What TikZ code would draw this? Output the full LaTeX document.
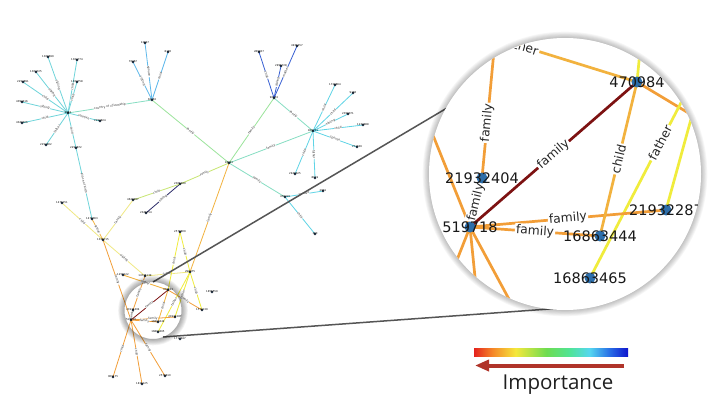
\documentclass[tikz,border=0pt]{standalone}
\usepackage{fontspec}
\setmainfont{DejaVu Sans}
\newfontfamily\impfont{Open Sans}
\usetikzlibrary{arrows.meta}

\definecolor{maroonE}{RGB}{125,18,18}
\definecolor{orangeE}{RGB}{242,158,56}
\definecolor{sorangeE}{RGB}{242,178,62}
\definecolor{yellowE}{RGB}{240,236,60}
\definecolor{lyellowE}{RGB}{240,232,130}
\definecolor{dotblue}{RGB}{45,110,170}
\definecolor{tealE}{RGB}{110,212,218}
\definecolor{cyanE}{RGB}{95,212,230}
\definecolor{skyE}{RGB}{95,185,235}
\definecolor{lgreenE}{RGB}{155,228,155}
\definecolor{mintE}{RGB}{135,222,195}
\definecolor{blueE}{RGB}{55,95,210}
\definecolor{navyE}{RGB}{45,45,105}
\definecolor{ygreenE}{RGB}{200,230,115}
\definecolor{zoomline}{RGB}{85,85,85}
\definecolor{arrowred}{RGB}{176,52,42}
\definecolor{sdot}{RGB}{25,40,60}
\definecolor{cb0}{RGB}{228,35,30}
\definecolor{cb1}{RGB}{245,135,40}
\definecolor{cb2}{RGB}{245,232,60}
\definecolor{cb3}{RGB}{110,220,80}
\definecolor{cb4}{RGB}{80,228,150}
\definecolor{cb5}{RGB}{85,215,240}
\definecolor{cb6}{RGB}{40,110,230}
\definecolor{cb7}{RGB}{15,20,205}

\pgfdeclarehorizontalshading{importance}{100bp}{color(0bp)=(cb0); color(25bp)=(cb0); color(31bp)=(cb1); color(38.5bp)=(cb2); color(48.5bp)=(cb3); color(56bp)=(cb4); color(62.5bp)=(cb5); color(69bp)=(cb6); color(75bp)=(cb7); color(100bp)=(cb7)}

\tikzset{
  bedge/.style={line width=2.7pt},
  bdot/.style={circle, fill=dotblue, inner sep=0pt, minimum size=11pt},
  blab/.style={font=\fontsize{14.5}{16}\selectfont, text=black!90, inner sep=0pt},
  belab/.style={font=\fontsize{12.3}{14}\selectfont, text=black!85, fill=white, inner sep=1.2pt, sloped},
  sedge/.style={line width=0.8pt},
  sdotst/.style={circle, fill=sdot, inner sep=0pt, minimum size=2.8pt},
  slab/.style={font=\fontsize{2.6}{3}\selectfont, text=black, inner sep=0pt},
  selab/.style={font=\fontsize{3}{3.5}\selectfont, text=black!80, fill=white, inner sep=0.2pt, sloped},
}

\def\smallnodes{A/68/113/9682, a1/48/57/1309699, a2/77/60/1304774, a3/36/72/1304725, a4/23/82/2294891, a5/77/82/1304758, a6/22/102/4094416, a7/22/123/4040926, a8/100/121/2294824, a9/46/145/2294802, a10/76/148/2294872,
B/152/100/36463, b1/145/43/12847, b2/168/52/8165, b3/133/62/70467,
D/274/98/90453, d1/259/52/289837, d2/297/46/4936457, d3/281/66/2996728,
C/229/163/18091,
E/313/131/838731, e1/335/85/1728864, e2/353/93/9166, e3/348/114/2399071, e4/363/125/1234988, e5/357/147/271636, e6/295/174/2948625, e7/315/178/8619,
F/285/197/478419, f1/323/191/2961, f2/315/234/380,
G/180/184/2306489, g1/146/213/2046754, g2/133/200/4628997,
N1/92/219/1478063, N2/62/203/1476151, H/103/240/1038715, N3/180/232/2578809,
P/190/272/298475, Q1/123/275/1258122, Q2/145/276/14736139, R/212/292/1856559, S/202/310/1572139, T/180/339/1717947,
U1/113/377/909175, U2/142/384/1816125, U3/165/376/2578810,
l1/168/290/470984, l2/133/310/21932404, l3/131/320/519718, l4/158/322/16863444, l5/175/317/21932287, l6/158/332/16863465}

\def\smalledges{A/a1/tealE/sibling, A/a2/tealE/child, A/a3/tealE/sibling, A/a4/tealE/child, A/a5/tealE/child, A/a6/tealE/sibling, A/a7/tealE/child, A/a8/tealE/relative, A/a9/tealE/father, A/a10/tealE/child,
A/B/mintE/country of citizenship, a10/N1/tealE/place of birth,
B/b1/skyE/spouse, B/b2/skyE/child, B/b3/skyE/sibling, B/C/lgreenE/family,
D/d1/blueE/child, D/d2/blueE/mother, D/d3/blueE/sibling, D/C/lgreenE/family, D/E/mintE/family, C/E/mintE/family,
E/e1/cyanE/child, E/e2/cyanE/child, E/e3/cyanE/sibling, E/e4/cyanE/child, E/e5/cyanE/spouse, E/e6/cyanE/child, E/e7/cyanE/father,
C/F/mintE/family, F/f1/cyanE/spouse, F/f2/cyanE/child,
C/G/ygreenE/family, G/g1/navyE/sibling, G/g2/ygreenE/child,
C/P/sorangeE/family, N1/H/sorangeE/father, H/N2/lyellowE/child, H/g2/lyellowE/family, H/Q2/lyellowE/sibling,
P/N3/yellowE/child, P/Q2/lyellowE/family, P/S/yellowE/child,
H/l3/orangeE/family, Q2/l2/orangeE/family, Q1/l1/sorangeE/father, N3/l1/yellowE/child, l1/S/orangeE/family,
P/l6/yellowE/father, P/l5/yellowE/father,
l3/l2/orangeE/family, l3/l5/orangeE/family, l3/l4/orangeE/family, l1/l4/sorangeE/child, l3/l1/maroonE/family,
l3/U1/orangeE/child, l3/U2/orangeE/child, l3/U3/orangeE/family}

\begin{document}
\begin{tikzpicture}[x=1pt,y=-1pt]
\useasboundingbox (0,0) rectangle (720,409);
\fill[white] (0,0) rectangle (720,409);

% ---------- small overview graph ----------
\foreach \nn/\xx/\yy/\nt in \smallnodes {\coordinate (\nn) at (\xx,\yy);}
\foreach \ea/\eb/\ec/\el in \smalledges {\draw[sedge, draw=\ec] (\ea) -- node[selab]{\el} (\eb);}
\foreach \nn/\xx/\yy/\nt in \smallnodes {\node[sdotst] (\nn-d) at (\nn) {}; \node[slab] (\nn-t) at (\nn) {\nt};}

% ---------- zoom connector lines ----------
\coordinate (zlu1) at (153,282);
\coordinate (zlu2) at (447,108);
\coordinate (zll1) at (163,337);
\coordinate (zll2) at (563,308);
\draw[zoomline, line width=1.5pt] (zlu1) -- (zlu2);
\draw[zoomline, line width=1.5pt] (zll1) -- (zll2);

% ---------- lens ----------
\coordinate (lc) at (153,310.5);
\foreach \i in {1,...,7}
  \fill[black, opacity=0.05, even odd rule] (lc) circle[radius={28.5pt+\i*0.9pt}] circle[radius=28.5pt];

% ---------- magnified circle ----------
\coordinate (bc) at (565,174);
\foreach \i in {1,...,7}
  \fill[black, opacity=0.035] (bc) circle[radius={136pt+\i*0.9pt}];
\fill[white] (bc) circle[radius=136pt];
\begin{scope}
  \clip (bc) circle[radius=136pt];
  \coordinate (B470984) at (637,82);
  \coordinate (B21932404) at (482,178);
  \coordinate (B519718) at (470,227);
  \coordinate (B16863444) at (600,236);
  \coordinate (B21932287) at (666,210);
  \coordinate (B16863465) at (590,278);
  \coordinate (o1) at (495,40);
  \coordinate (o2) at (463,28);
  \coordinate (o3) at (720,132);
  \coordinate (o4) at (642,30);
  \coordinate (o5) at (725,18);
  \coordinate (o6) at (699,90);
  \coordinate (o7) at (420,103);
  \coordinate (o8) at (440,303);
  \coordinate (o9) at (481,337);
  \coordinate (o10) at (530,338);

  \draw[bedge, orangeE] (B21932404) -- node[belab, pos=0.4]{family} (o1);
  \draw[bedge, sorangeE] (B470984) -- node[belab, pos=0.67]{father} (o2);
  \draw[bedge, orangeE] (B470984) -- (o3);
  \draw[bedge, yellowE] (B470984) -- (o4);
  \draw[bedge, yellowE] (B16863465) -- node[belab, pos=0.52]{father} (o5);
  \draw[bedge, yellowE] (B21932287) -- (o6);
  \draw[bedge, orangeE] (B519718) -- (o7);
  \draw[bedge, orangeE] (B519718) -- (o8);
  \draw[bedge, orangeE] (B519718) -- (o9);
  \draw[bedge, orangeE] (B519718) -- (o10);
  \draw[bedge, orangeE] (B519718) -- node[belab]{family} (B21932404);
  \draw[bedge, orangeE] (B519718) -- node[belab]{family} (B21932287);
  \draw[bedge, orangeE] (B519718) -- node[belab]{family} (B16863444);
  \draw[bedge, sorangeE] (B470984) -- node[belab]{child} (B16863444);
  \draw[bedge, maroonE] (B519718) -- node[belab]{family} (B470984);

  \foreach \bn/\bt in {B470984/470984, B21932404/21932404, B519718/519718, B16863444/16863444, B21932287/21932287, B16863465/16863465}
    {\node[bdot] (\bn-d) at (\bn) {};}
  \foreach \bn/\bt in {B470984/470984, B21932404/21932404, B519718/519718, B16863444/16863444, B21932287/21932287, B16863465/16863465}
    {\node[blab] (\bn-t) at (\bn) {\bt};}
\end{scope}

% ---------- colour bar and legend ----------
\coordinate (cbl) at (474,348);
\coordinate (cbr) at (628,356);
\shade[shading=importance] (cbl) rectangle (cbr);
\coordinate (arS) at (624,365.5);
\coordinate (arE) at (475,365.5);
\draw[arrowred, line width=4pt, -{Triangle[length=14pt,width=11pt]}] (arS) -- (arE);
\node[font=\impfont\fontsize{20.5}{24}\selectfont, text=black!88, anchor=base, inner sep=0pt] (imp) at (558,389) {Importance};
\end{tikzpicture}
\end{document}
